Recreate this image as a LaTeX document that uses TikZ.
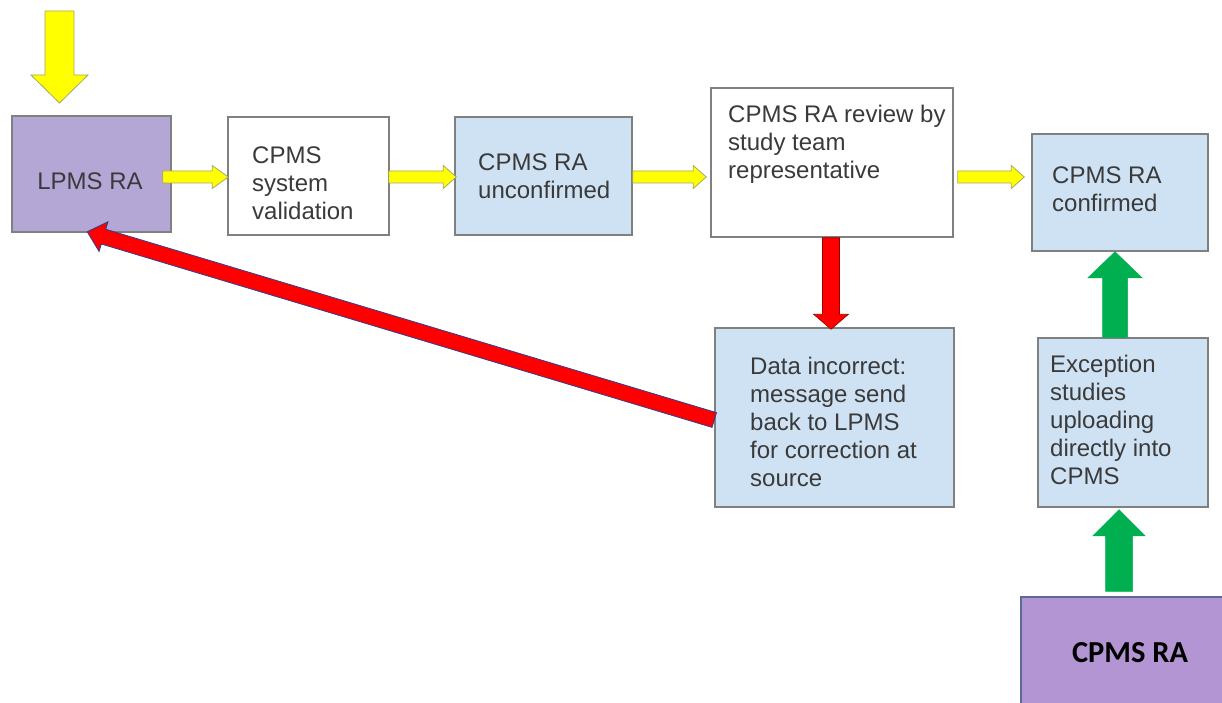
\documentclass[tikz,border=0pt]{standalone}
\usepackage{fontspec}
\setmainfont{Liberation Sans}
\newfontfamily\calib{Carlito}
\usetikzlibrary{calc}
\definecolor{lav}{HTML}{B4A7D6}
\definecolor{purp}{HTML}{B495D3}
\definecolor{lblue}{HTML}{CFE2F3}
\definecolor{bord}{HTML}{808080}
\definecolor{txtc}{HTML}{3A3A3A}
\definecolor{ylw}{HTML}{FFFF00}
\definecolor{ylwb}{HTML}{A8A860}
\definecolor{grn}{HTML}{00B050}
\definecolor{rd}{HTML}{FF0000}
\definecolor{rdb}{HTML}{2F3F8F}
\definecolor{pbord}{HTML}{5A6A9A}
\newcommand\blockarrow[6]{%
  \path ($(#3)!#6!(#2)$) coordinate (bab);
  \filldraw[#1] ($(#2)!#4!90:(#3)$) -- ($(bab)!#4!-90:(#2)$) -- ($(bab)!#5!-90:(#2)$) -- (#3)
    -- ($(bab)!#5!90:(#2)$) -- ($(bab)!#4!90:(#2)$) -- ($(#2)!#4!-90:(#3)$) -- cycle;}
\tikzset{
  box/.style={draw=bord, line width=1.5pt, inner sep=0pt},
  txt/.style={anchor=north west, inner sep=0pt, align=left, text=txtc,
    font=\fontsize{24pt}{28pt}\selectfont},
  yarrow/.style={fill=ylw, draw=ylwb, line width=0.8pt},
  garrow/.style={fill=grn, draw=grn, line width=0.5pt},
  rarrow/.style={fill=rd, draw=rdb, line width=0.8pt},
  rdarrow/.style={fill=rd, draw=rd!60!black, line width=0.6pt}
}
\begin{document}
\begin{tikzpicture}[x=1pt,y=-1pt]
\useasboundingbox (0,0) rectangle (1222,703);
\clip (0,0) rectangle (1222,703);
\fill[white] (0,0) rectangle (1222,703);
% boxes
\node[box, fill=lav, minimum width=159pt, minimum height=116pt] (lpms) at (91.5,174) {};
\node[box, fill=white, minimum width=161pt, minimum height=118pt] (valid) at (308.5,176) {};
\node[box, fill=lblue, minimum width=177pt, minimum height=118pt] (unconf) at (543.5,176) {};
\node[box, fill=white, minimum width=242pt, minimum height=149pt] (review) at (832,162.5) {};
\node[box, fill=lblue, minimum width=176pt, minimum height=117pt] (conf) at (1120,192.5) {};
\node[box, fill=lblue, minimum width=239pt, minimum height=179pt] (data) at (834.5,417.5) {};
\node[box, fill=lblue, minimum width=170pt, minimum height=169pt] (exc) at (1123,422.5) {};
\node[draw=pbord, line width=1.5pt, fill=purp, inner sep=0pt, minimum width=208pt, minimum height=116pt] (cpms2) at (1125,655) {};
% arrows
\coordinate (inT) at (59.5,11);
\coordinate (inH) at (59.5,103);
\blockarrow{yarrow}{inT}{inH}{14.5pt}{28.5pt}{28pt}
\blockarrow{yarrow}{$(lpms.east)+(-9,3)$}{$(valid.west)+(1,1)$}{6pt}{11.5pt}{16pt}
\blockarrow{yarrow}{$(valid.east)+(-1,1)$}{$(unconf.west)+(2,1)$}{6pt}{11.5pt}{13pt}
\blockarrow{yarrow}{$(unconf.east)+(0,1)$}{$(review.west)+(-4,14.5)$}{6pt}{11.5pt}{13pt}
\blockarrow{yarrow}{$(review.east)+(4,14.5)$}{$(conf.west)+(-7,-15.5)$}{6pt}{11.5pt}{13pt}
\blockarrow{garrow}{$(exc.north)+(-8,0)$}{$(conf.south)+(-5,0)$}{12.5pt}{27pt}{26pt}
\blockarrow{garrow}{$(cpms2.north)+(-6,-5)$}{$(exc.south)+(-4,2)$}{13.5pt}{26pt}{26pt}
\blockarrow{rdarrow}{$(review.south)+(-1,0)$}{$(data.north)+(-3.5,2)$}{8.5pt}{17.5pt}{15pt}
\blockarrow{rarrow}{$(data.west)+(0,2.5)$}{$(lpms.south west)+(76,-1)$}{7.7pt}{15.5pt}{17pt}
% texts
\node[inner sep=0pt, text=txtc, font=\fontsize{24pt}{28pt}\selectfont] (tlpms) at (90,181) {LPMS RA};
\node[txt] (tvalid) at (252,147) {CPMS\\system\\validation};
\node[txt] (tunconf) at (478,154) {CPMS RA\\unconfirmed};
\node[txt] (treview) at (728,105) {CPMS RA review by\\study team\\representative};
\node[txt] (tconf) at (1052,167) {CPMS RA\\confirmed};
\node[txt] (tdata) at (750,357) {Data incorrect:\\message send\\back to LPMS\\for correction at\\source};
\node[txt] (texc) at (1050,355) {Exception\\studies\\uploading\\directly into\\CPMS};
\node[inner sep=0pt, text=black, font=\calib\bfseries\fontsize{30.5pt}{36pt}\selectfont] (tcpms2) at (1130,652.5) {CPMS RA};
\end{tikzpicture}
\end{document}
